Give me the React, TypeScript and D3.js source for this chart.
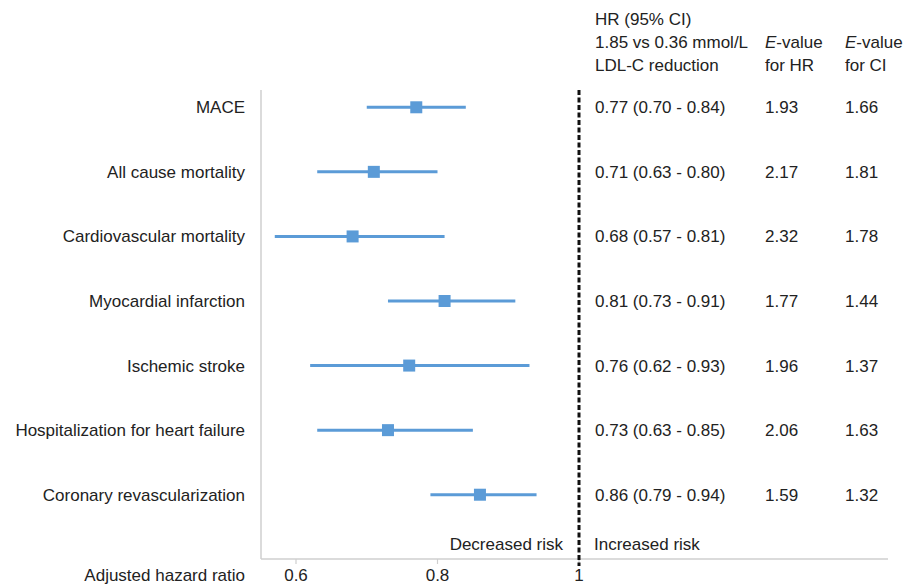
import React from "react";
import * as d3 from "d3";

const outcomes = [
  "MACE",
  "All cause mortality",
  "Cardiovascular mortality",
  "Myocardial infarction",
  "Ischemic stroke",
  "Hospitalization for heart failure",
  "Coronary revascularization",
];
const hr = [0.77, 0.71, 0.68, 0.81, 0.76, 0.73, 0.86];
const lower = [0.7, 0.63, 0.57, 0.73, 0.62, 0.63, 0.79];
const upper = [0.84, 0.8, 0.81, 0.91, 0.93, 0.85, 0.94];
const hrText = [
  "0.77 (0.70 - 0.84)",
  "0.71 (0.63 - 0.80)",
  "0.68 (0.57 - 0.81)",
  "0.81 (0.73 - 0.91)",
  "0.76 (0.62 - 0.93)",
  "0.73 (0.63 - 0.85)",
  "0.86 (0.79 - 0.94)",
];
const eHR = ["1.93", "2.17", "2.32", "1.77", "1.96", "2.06", "1.59"];
const eCI = ["1.66", "1.81", "1.78", "1.44", "1.37", "1.63", "1.32"];
const xTicks = [0.6, 0.8, 1];
const xTickLabels = ["0.6", "0.8", "1"];

export default function App() {
  const W = 905;
  const H = 585;
  const x = d3.scaleLinear().domain([0.6, 1]).range([296, 579]);
  const y = d3.scaleBand<string>().domain(outcomes).range([75, 527]).padding(0);
  const yc = (d: string) => (y(d) as number) + y.bandwidth() / 2;
  const font = "'Liberation Sans', Arial, sans-serif";
  const blue = "#5b9bd7";
  const txt = "#222";
  const fs = 17;
  const colHR = 595;
  const colE1 = 765;
  const colE2 = 845;
  const axisY = 559;
  return (
    <svg
      width={W}
      height={H}
      style={{ position: "absolute", left: 0, top: 0, background: "#fff" }}
      fontFamily={font}
      fontSize={fs}
      fill={txt}
    >
      {/* axes */}
      <line x1={261} x2={261} y1={90} y2={axisY} stroke="#cfcfcf" strokeWidth={1.5} />
      <line x1={261} x2={888} y1={axisY} y2={axisY} stroke="#cfcfcf" strokeWidth={1.5} />
      {xTicks.map((t, i) => (
        <g key={t}>
          <line x1={x(t)} x2={x(t)} y1={axisY} y2={axisY + 5} stroke="#cfcfcf" strokeWidth={1.2} />
          <text x={x(t)} y={581} textAnchor="middle">
            {xTickLabels[i]}
          </text>
        </g>
      ))}
      <text x={245} y={581} textAnchor="end">
        Adjusted hazard ratio
      </text>
      {/* reference line */}
      <line
        x1={x(1)}
        x2={x(1)}
        y1={90}
        y2={566}
        stroke="#111"
        strokeWidth={3}
        strokeDasharray="5,2.5"
      />
      <text x={563} y={550} textAnchor="end">
        Decreased risk
      </text>
      <text x={594} y={550}>
        Increased risk
      </text>
      {/* header */}
      <text x={colHR} y={25}>HR (95% CI)</text>
      <text x={colHR} y={48}>1.85 vs 0.36 mmol/L</text>
      <text x={colHR} y={71}>LDL-C reduction</text>
      <text x={colE1} y={48}>
        <tspan fontStyle="italic">E</tspan>-value
      </text>
      <text x={colE1} y={71}>for HR</text>
      <text x={colE2} y={48}>
        <tspan fontStyle="italic">E</tspan>-value
      </text>
      <text x={colE2} y={71}>for CI</text>
      {/* rows */}
      {outcomes.map((o, i) => {
        const cy = yc(o);
        return (
          <g key={o}>
            <text x={245} y={cy + 6} textAnchor="end">
              {o}
            </text>
            <line
              x1={x(lower[i])}
              x2={x(upper[i])}
              y1={cy}
              y2={cy}
              stroke={blue}
              strokeWidth={3}
            />
            <rect x={x(hr[i]) - 6} y={cy - 6} width={12} height={12} fill={blue} />
            <text x={colHR} y={cy + 6}>
              {hrText[i]}
            </text>
            <text x={colE1} y={cy + 6}>
              {eHR[i]}
            </text>
            <text x={colE2} y={cy + 6}>
              {eCI[i]}
            </text>
          </g>
        );
      })}
    </svg>
  );
}
